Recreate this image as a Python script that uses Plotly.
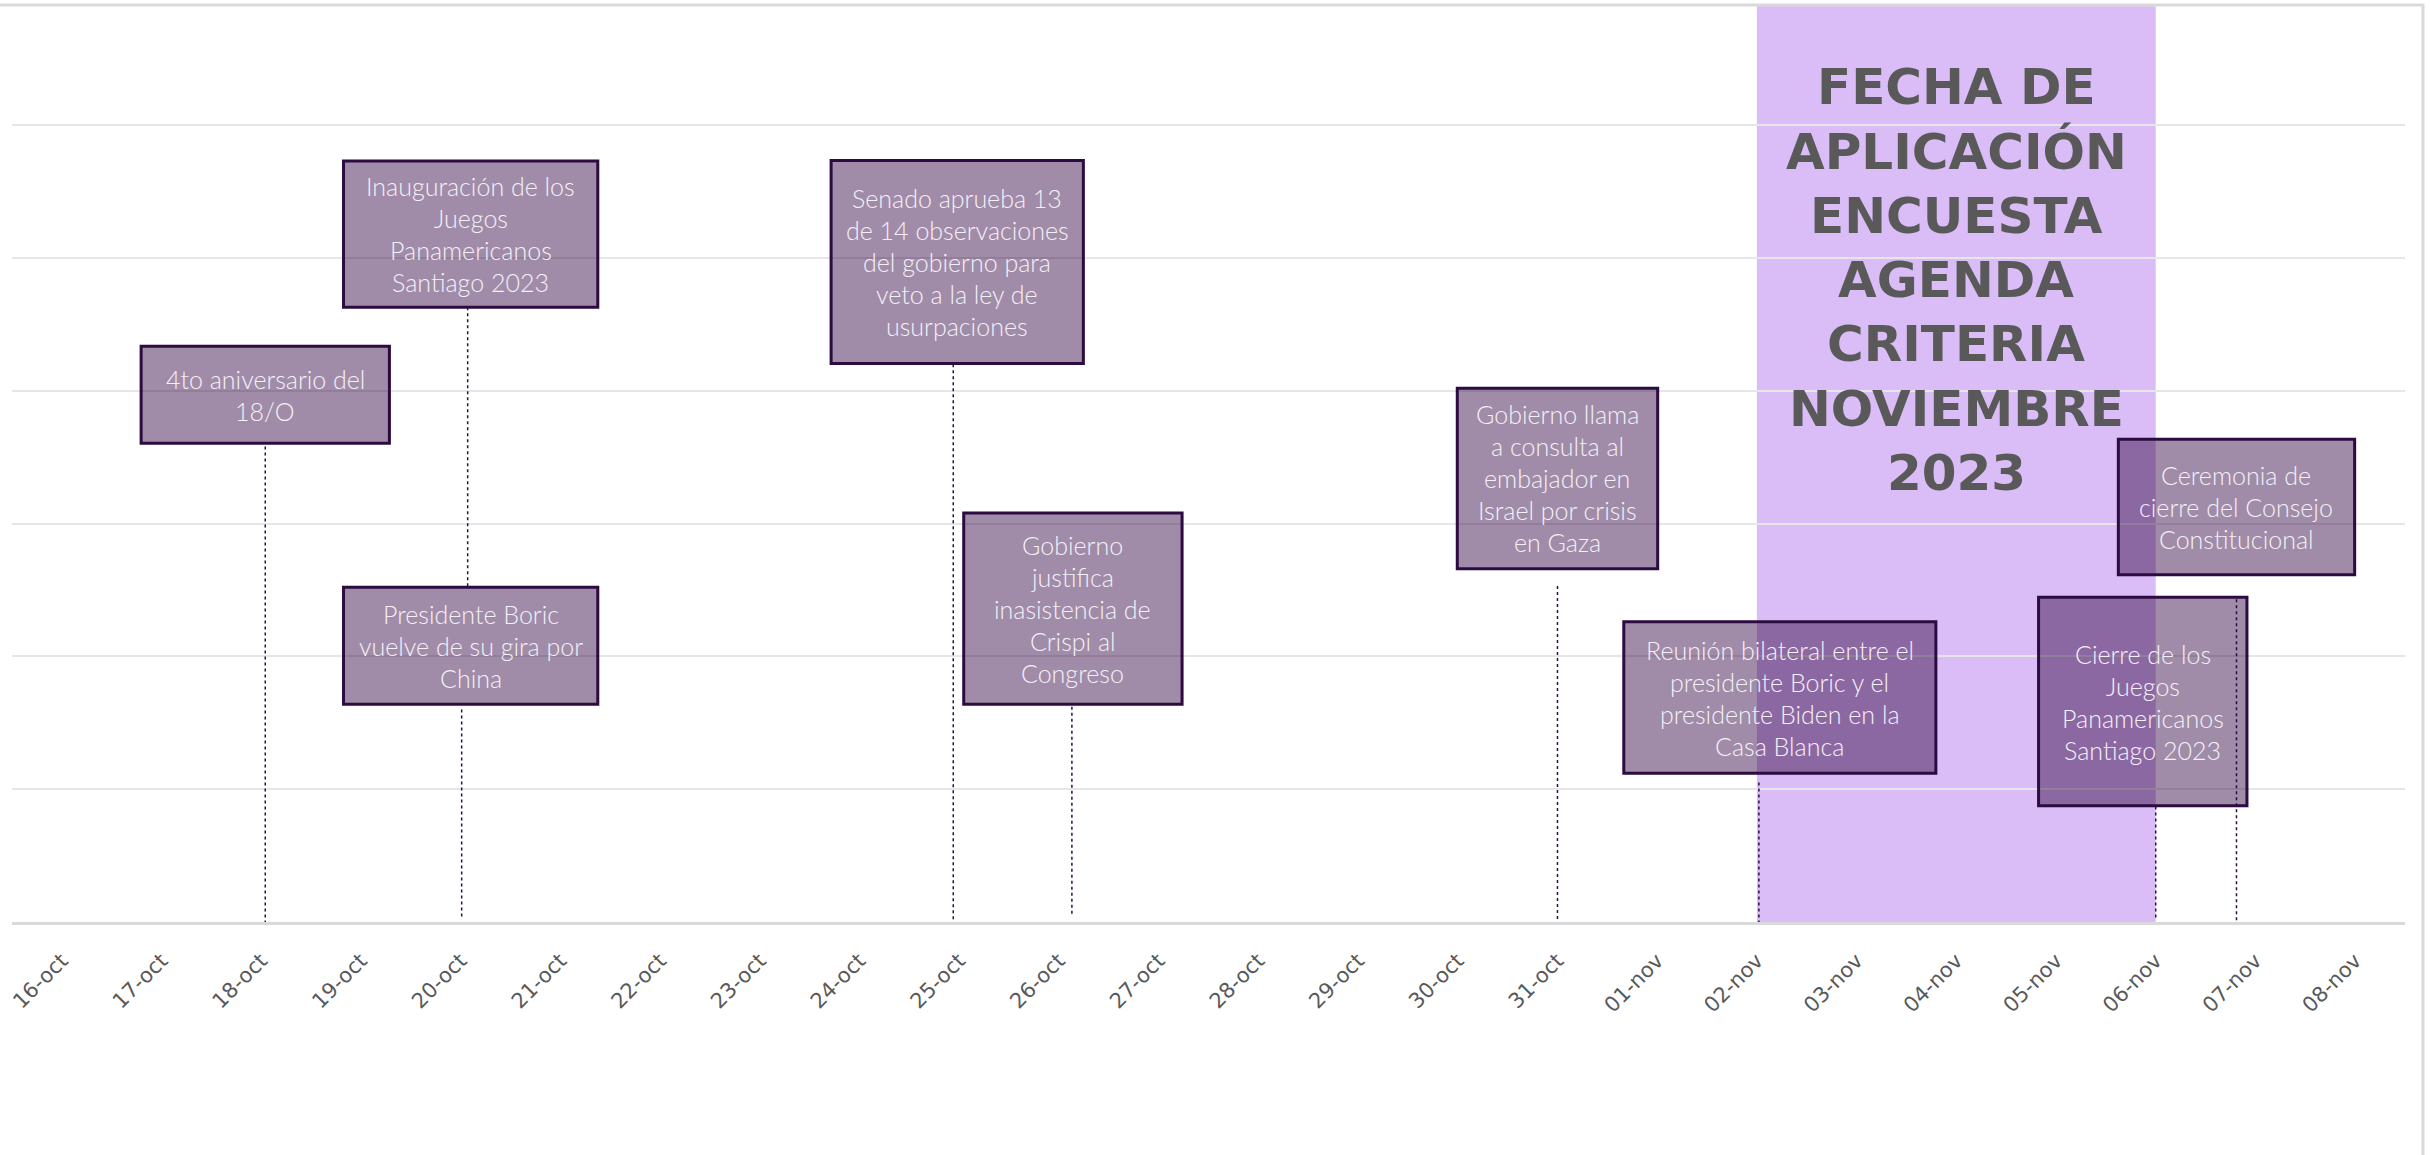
import plotly.graph_objects as go
from datetime import datetime, timedelta

# ---------------- data ----------------
BASE = datetime(2023, 10, 16)

tick_days = list(range(24))
tick_labels = ["16-oct", "17-oct", "18-oct", "19-oct", "20-oct", "21-oct", "22-oct",
               "23-oct", "24-oct", "25-oct", "26-oct", "27-oct", "28-oct", "29-oct",
               "30-oct", "31-oct", "01-nov", "02-nov", "03-nov", "04-nov", "05-nov",
               "06-nov", "07-nov", "08-nov"]

event_labels = [
    "4to aniversario del<br>18/O",
    "Inauguración de los<br>Juegos<br>Panamericanos<br>Santiago 2023",
    "Presidente Boric<br>vuelve de su gira por<br>China",
    "Senado aprueba 13<br>de 14 observaciones<br>del gobierno para<br>veto a la ley de<br>usurpaciones",
    "Gobierno<br>justifica<br>inasistencia de<br>Crispi al<br>Congreso",
    "Gobierno llama<br>a consulta al<br>embajador en<br>Israel por crisis<br>en Gaza",
    "Reunión bilateral entre el<br>presidente Boric y el<br>presidente Biden en la<br>Casa Blanca",
    "Cierre de los<br>Juegos<br>Panamericanos<br>Santiago 2023",
    "Ceremonia de<br>cierre del Consejo<br>Constitucional",
]
# event position in days after 16-oct
event_day = [2.04, 4.07, 4.01, 8.94, 10.13, 15.0, 17.02, 21.0, 21.81]
# connector line extent (vertical units)
event_line_top = [3.58, 4.63, 1.60, 4.20, 1.62, 2.53, 1.05, 0.87, 2.43]
event_line_bottom = [0.0, 2.53, 0.04, 0.0, 0.04, 0.0, 0.0, 0.02, 0.0]

survey_start_day = 17   # 02-nov
survey_end_day = 21     # 06-nov
survey_title_lines = ["FECHA DE", "APLICACIÓN", "ENCUESTA", "AGENDA",
                      "CRITERIA", "NOVIEMBRE", "2023"]

# ---------------- label box layout ----------------
box_cx = [2.04, 4.10, 4.10, 8.98, 10.14, 15.0, 17.23, 20.87, 21.81]
box_cy = [3.97, 5.18, 2.08, 4.97, 2.36, 3.34, 1.69, 1.66, 3.125]
box_w = [2.49, 2.55, 2.55, 2.53, 2.19, 2.01, 3.13, 2.09, 2.37]
box_h = [0.73, 1.10, 0.88, 1.53, 1.44, 1.36, 1.14, 1.57, 1.02]

Y_TOP = 6.905
W, H = 2430, 1155
ML, MR, MT, MB = 12, 25, 5, 233


def day(d):
    return BASE + timedelta(days=d)


fig = go.Figure()

# connector lines
for i in range(len(event_labels)):
    fig.add_trace(go.Scatter(
        x=[day(event_day[i]), day(event_day[i])],
        y=[event_line_top[i], event_line_bottom[i]],
        mode="lines",
        line=dict(color="#2e0f45", width=1.5, dash="dot"),
        hoverinfo="skip", showlegend=False))

shapes = []
# survey band
shapes.append(dict(type="rect", xref="x", yref="y",
                   x0=day(survey_start_day), x1=day(survey_end_day),
                   y0=0, y1=Y_TOP, fillcolor="#dabdf6",
                   line=dict(width=0), layer="below"))

annotations = []
# survey band title
line_px = 64.3
n = len(survey_title_lines)
for k, t in enumerate(survey_title_lines):
    annotations.append(dict(
        x=day((survey_start_day + survey_end_day) / 2), y=4.834,
        xref="x", yref="y", text=t, showarrow=False,
        xanchor="center", yanchor="middle",
        yshift=((n - 1) / 2 - k) * line_px,
        font=dict(family="DejaVu Sans", size=50, color="#595959", weight="bold")))

# event boxes and texts
for i, lab in enumerate(event_labels):
    shapes.append(dict(type="rect", xref="x", yref="y",
                       x0=day(box_cx[i] - box_w[i] / 2), x1=day(box_cx[i] + box_w[i] / 2),
                       y0=box_cy[i] - box_h[i] / 2, y1=box_cy[i] + box_h[i] / 2,
                       fillcolor="rgba(44,0,62,0.45)",
                       line=dict(color="#2b0b40", width=3), layer="above"))
    parts = lab.split("<br>")
    m = len(parts)
    for k, t in enumerate(parts):
        annotations.append(dict(
            x=day(box_cx[i]), y=box_cy[i], xref="x", yref="y",
            text=t, showarrow=False, xanchor="center", yanchor="middle",
            yshift=((m - 1) / 2 - k) * 32,
            font=dict(family="Lato", size=25, color="#f4f0f7", weight=300)))

# outer chart border (top and right visible)
plot_w = W - ML - MR
plot_h = H - MT - MB
shapes.append(dict(type="rect", xref="paper", yref="paper",
                   x0=-0.02, x1=(2423 - ML) / plot_w,
                   y0=-0.6, y1=1.0,
                   line=dict(color="#d9d9d9", width=3), fillcolor="rgba(0,0,0,0)",
                   layer="above"))

fig.update_layout(
    width=W, height=H, autosize=False,
    margin=dict(l=ML, r=MR, t=MT, b=MB, pad=0),
    paper_bgcolor="white", plot_bgcolor="white",
    showlegend=False,
    shapes=shapes, annotations=annotations,
    xaxis=dict(type="date", range=[day(-0.5), day(23.5)],
               tickmode="array", tickvals=[day(d) for d in tick_days],
               ticktext=tick_labels, tickangle=-45,
               tickfont=dict(family="DejaVu Sans", size=21, color="#595959"),
               ticks="outside", ticklen=15, tickcolor="rgba(0,0,0,0)",
               showgrid=False, zeroline=False,
               showline=True, linecolor="#d9d9d9", linewidth=3,
               fixedrange=True),
    yaxis=dict(range=[0, Y_TOP], tick0=0, dtick=1,
               showgrid=True, gridcolor="#e6e6e6", gridwidth=2,
               showticklabels=False, zeroline=False, showline=False,
               fixedrange=True),
)

fig.write_html("out.html", config={"displayModeBar": False},
               post_script="document.body.style.margin='0';")
